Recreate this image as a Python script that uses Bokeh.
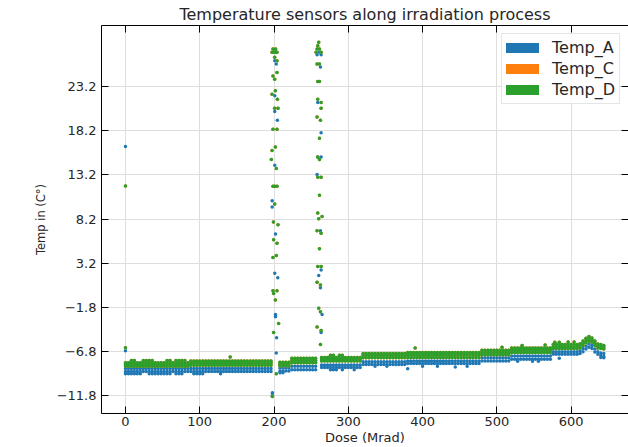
from bokeh.plotting import figure
from bokeh.models import Range1d, LinearAxis, FixedTicker, Legend, LegendItem
from bokeh.embed import file_html
from bokeh.resources import INLINE

# ---------------- data ----------------
title_text = "Temperature sensors along irradiation process"
x_ticks = [0, 100, 200, 300, 400, 500, 600]
y_ticks = [-11.8, -6.8, -1.8, 3.2, 8.2, 13.2, 18.2, 23.2]
y_tick_labels = ["\u221211.8", "\u22126.8", "\u22121.8", "3.2", "8.2", "13.2", "18.2", "23.2"]
series_names = ["Temp_A", "Temp_C", "Temp_D"]
series_colors = ["#1f77b4", "#ff7f0e", "#2ca02c"]

# dose of the steady readings (Mrad)
dose = [0, 4, 8, 12, 16, 20, 24, 28, 32, 36, 40, 44, 48, 52, 56, 60, 64, 68, 72, 76, 80, 84,
        88, 92, 96, 100, 104, 108, 112, 116, 120, 124, 128, 132, 136, 140, 144, 148, 152, 156,
        160, 164, 168, 172, 176, 180, 184, 188, 192, 196,
        208, 212, 216, 220,
        224, 228, 232, 236, 240, 244, 248, 252, 256,
        264, 268, 272, 276, 280, 284, 288, 292, 296, 300, 304, 308, 312, 316,
        320, 324, 328, 332, 336, 340, 344, 348, 352, 356, 360, 364, 368, 372, 376,
        380, 384, 388, 392, 396, 400, 404, 408, 412, 416, 420, 424, 428, 432, 436, 440,
        444, 448, 452, 456, 460, 464, 468, 472, 476,
        480, 484, 488, 492, 496, 500, 504, 508, 512, 516,
        520, 524, 528, 532, 536, 540, 544, 548, 552, 556, 560, 564, 568, 572,
        576, 580, 584, 588, 592, 596, 600, 604, 608,
        612, 616, 620, 624, 628, 632, 636, 640, 644]

# Temp_D readings at each dose: upper, middle and lower reading
temp_d_top = [
    -8.05, -8.05, -8.05, -8.05, -8.05, -8.05, -8.05, -8.05, -8.05, -8.05, -8.05,
    -8.05, -8.05, -8.05, -8.05, -8.05, -8.05, -8.05, -8.05, -8.05, -8.05, -8.05,
    -7.85, -7.85, -7.85, -7.85, -7.85, -7.85, -7.85, -7.85, -7.85, -7.85, -7.85, -7.85, -7.85, -7.85,
    -7.85, -7.85, -7.85, -7.85, -7.85, -7.85, -7.85, -7.85, -7.85, -7.85, -7.85, -7.85, -7.85, -7.85,
    -8.0, -8.0, -8.0, -8.0,
    -7.55, -7.55, -7.55, -7.55, -7.55, -7.55, -7.55, -7.55, -7.55,
    -7.45, -7.45, -7.45, -7.45, -7.45, -7.45, -7.45, -7.45, -7.45, -7.45, -7.45, -7.45, -7.45, -7.45,
    -7.0, -7.0, -7.0, -7.0, -7.0, -7.0, -7.0, -7.0, -7.0, -7.0, -7.0, -7.0, -7.0, -7.0, -7.0,
    -6.9, -6.9, -6.9, -6.9, -6.9, -6.9, -6.9, -6.9, -6.9, -6.9, -6.9, -6.9, -6.9, -6.9, -6.9, -6.9,
    -6.9, -6.9, -6.9, -6.9, -6.9, -6.9, -6.9, -6.9, -6.9,
    -6.65, -6.65, -6.65, -6.65, -6.65, -6.65, -6.65, -6.65, -6.65, -6.65,
    -6.4, -6.4, -6.4, -6.4, -6.4, -6.4, -6.4, -6.4, -6.4, -6.4, -6.4, -6.4, -6.4, -6.4,
    -6.0, -6.0, -6.0, -6.0, -6.0, -6.0, -6.0, -6.0, -6.0,
    -5.9, -5.6, -5.3, -5.1, -5.25, -5.6, -5.95, -6.0, -6.1]
temp_d_mid = [
    -8.25, -8.25, -8.25, -8.25, -8.25, -8.25, -8.25, -8.25, -8.25, -8.25, -8.25,
    -8.25, -8.25, -8.25, -8.25, -8.25, -8.25, -8.25, -8.25, -8.25, -8.25, -8.25,
    -8.1, -8.1, -8.1, -8.1, -8.1, -8.1, -8.1, -8.1, -8.1, -8.1, -8.1, -8.1, -8.1, -8.1,
    -8.1, -8.1, -8.1, -8.1, -8.1, -8.1, -8.1, -8.1, -8.1, -8.1, -8.1, -8.1, -8.1, -8.1,
    -8.2, -8.2, -8.2, -8.2,
    -7.8, -7.8, -7.8, -7.8, -7.8, -7.8, -7.8, -7.8, -7.8,
    -7.65, -7.65, -7.65, -7.65, -7.65, -7.65, -7.65, -7.65, -7.65, -7.65, -7.65, -7.65, -7.65, -7.65,
    -7.25, -7.25, -7.25, -7.25, -7.25, -7.25, -7.25, -7.25, -7.25, -7.25, -7.25, -7.25, -7.25, -7.25, -7.25,
    -7.15, -7.15, -7.15, -7.15, -7.15, -7.15, -7.15, -7.15, -7.15, -7.15, -7.15, -7.15, -7.15, -7.15, -7.15, -7.15,
    -7.15, -7.15, -7.15, -7.15, -7.15, -7.15, -7.15, -7.15, -7.15,
    -6.9, -6.9, -6.9, -6.9, -6.9, -6.9, -6.9, -6.9, -6.9, -6.9,
    -6.65, -6.65, -6.65, -6.65, -6.65, -6.65, -6.65, -6.65, -6.65, -6.65, -6.65, -6.65, -6.65, -6.65,
    -6.25, -6.25, -6.25, -6.25, -6.25, -6.25, -6.25, -6.25, -6.25,
    -6.1, -5.85, -5.55, -5.35, -5.5, -5.85, -6.2, -6.25, -6.3]
temp_d_low = [
    -8.45, -8.45, -8.45, -8.45, -8.45, -8.45, -8.45, -8.45, -8.45, -8.45, -8.45,
    -8.45, -8.45, -8.45, -8.45, -8.45, -8.45, -8.45, -8.45, -8.45, -8.45, -8.45,
    -8.35, -8.35, -8.35, -8.35, -8.35, -8.35, -8.35, -8.35, -8.35, -8.35, -8.35, -8.35, -8.35, -8.35,
    -8.35, -8.35, -8.35, -8.35, -8.35, -8.35, -8.35, -8.35, -8.35, -8.35, -8.35, -8.35, -8.35, -8.35,
    -8.4, -8.4, -8.4, -8.4,
    -8.05, -8.05, -8.05, -8.05, -8.05, -8.05, -8.05, -8.05, -8.05,
    -7.85, -7.85, -7.85, -7.85, -7.85, -7.85, -7.85, -7.85, -7.85, -7.85, -7.85, -7.85, -7.85, -7.85,
    -7.5, -7.5, -7.5, -7.5, -7.5, -7.5, -7.5, -7.5, -7.5, -7.5, -7.5, -7.5, -7.5, -7.5, -7.5,
    -7.45, -7.45, -7.45, -7.45, -7.45, -7.45, -7.45, -7.45, -7.45, -7.45, -7.45, -7.45, -7.45, -7.45, -7.45, -7.45,
    -7.45, -7.45, -7.45, -7.45, -7.45, -7.45, -7.45, -7.45, -7.45,
    -7.15, -7.15, -7.15, -7.15, -7.15, -7.15, -7.15, -7.15, -7.15, -7.15,
    -6.9, -6.9, -6.9, -6.9, -6.9, -6.9, -6.9, -6.9, -6.9, -6.9, -6.9, -6.9, -6.9, -6.9,
    -6.45, -6.45, -6.45, -6.45, -6.45, -6.45, -6.45, -6.45, -6.45,
    -6.35, -6.1, -5.8, -5.6, -5.75, -6.1, -6.4, -6.45, -6.5]

# Temp_A readings at each dose: upper and lower reading
temp_a_top = [
    -8.7, -8.7, -8.7, -8.7, -8.7, -8.7, -8.7, -8.7, -8.7, -8.7, -8.7,
    -8.7, -8.7, -8.7, -8.7, -8.7, -8.7, -8.7, -8.7, -8.7, -8.7, -8.7,
    -8.7, -8.7, -8.7, -8.7, -8.7, -8.7, -8.7, -8.7, -8.7, -8.7, -8.7, -8.7, -8.7, -8.7,
    -8.7, -8.7, -8.7, -8.7, -8.7, -8.7, -8.7, -8.7, -8.7, -8.7, -8.7, -8.7, -8.7, -8.7,
    -8.65, -8.65, -8.65, -8.65,
    -8.45, -8.45, -8.45, -8.45, -8.45, -8.45, -8.45, -8.45, -8.45,
    -8.3, -8.3, -8.3, -8.3, -8.3, -8.3, -8.3, -8.3, -8.3, -8.3, -8.3, -8.3, -8.3, -8.3,
    -7.95, -7.95, -7.95, -7.95, -7.95, -7.95, -7.95, -7.95, -7.95, -7.95, -7.95, -7.95, -7.95, -7.95, -7.95,
    -7.85, -7.85, -7.85, -7.85, -7.85, -7.85, -7.85, -7.85, -7.85, -7.85, -7.85, -7.85, -7.85, -7.85, -7.85, -7.85,
    -7.85, -7.85, -7.85, -7.85, -7.85, -7.85, -7.85, -7.85, -7.85,
    -7.5, -7.5, -7.5, -7.5, -7.5, -7.5, -7.5, -7.5, -7.5, -7.5,
    -7.3, -7.3, -7.3, -7.3, -7.3, -7.3, -7.3, -7.3, -7.3, -7.3, -7.3, -7.3, -7.3, -7.3,
    -6.8, -6.8, -6.8, -6.8, -6.8, -6.8, -6.8, -6.8, -6.8,
    -6.7, -6.45, -6.15, -5.95, -6.1, -6.5, -6.8, -6.95, -7.0]
temp_a_low = [
    -9.05, -9.05, -9.05, -9.05, -9.05, -9.05, -9.05, -9.05, -9.05, -9.05, -9.05,
    -9.05, -9.05, -9.05, -9.05, -9.05, -9.05, -9.05, -9.05, -9.05, -9.05, -9.05,
    -9.05, -9.05, -9.05, -9.05, -9.05, -9.05, -9.05, -9.05, -9.05, -9.05, -9.05, -9.05, -9.05, -9.05,
    -9.05, -9.05, -9.05, -9.05, -9.05, -9.05, -9.05, -9.05, -9.05, -9.05, -9.05, -9.05, -9.05, -9.05,
    -9.0, -9.0, -9.0, -9.0,
    -8.85, -8.85, -8.85, -8.85, -8.85, -8.85, -8.85, -8.85, -8.85,
    -8.6, -8.6, -8.6, -8.6, -8.6, -8.6, -8.6, -8.6, -8.6, -8.6, -8.6, -8.6, -8.6, -8.6,
    -8.25, -8.25, -8.25, -8.25, -8.25, -8.25, -8.25, -8.25, -8.25, -8.25, -8.25, -8.25, -8.25, -8.25, -8.25,
    -8.15, -8.15, -8.15, -8.15, -8.15, -8.15, -8.15, -8.15, -8.15, -8.15, -8.15, -8.15, -8.15, -8.15, -8.15, -8.15,
    -8.15, -8.15, -8.15, -8.15, -8.15, -8.15, -8.15, -8.15, -8.15,
    -7.85, -7.85, -7.85, -7.85, -7.85, -7.85, -7.85, -7.85, -7.85, -7.85,
    -7.65, -7.65, -7.65, -7.65, -7.65, -7.65, -7.65, -7.65, -7.65, -7.65, -7.65, -7.65, -7.65, -7.65,
    -7.1, -7.1, -7.1, -7.1, -7.1, -7.1, -7.1, -7.1, -7.1,
    -7.0, -6.8, -6.5, -6.3, -6.45, -6.85, -7.1, -7.25, -7.35]

# occasional readings outside the steady band
spot_d_dose = [8, 12, 24, 28, 32, 36, 56, 60, 68, 72, 76, 80, 141, 276, 280, 288, 292,
               390, 507, 534, 565, 578, 584, 596, 604]
spot_d = [-7.8, -7.8, -7.8, -7.8, -7.8, -7.8, -7.8, -7.8, -7.8, -7.8, -7.8, -7.8, -7.4,
          -7.2, -7.2, -7.2, -7.2, -6.4, -6.3, -6.1, -6.05, -5.75, -5.75, -5.7, -5.7]
spot_a_dose = [0, 4, 8, 12, 16, 20, 32, 36, 40, 44, 48, 52, 56, 60, 68, 72, 76, 92, 96, 100,
               104, 128, 208, 212, 276, 280, 284, 292, 308, 336, 352, 380, 400, 420, 444, 460,
               528, 548, 556, 584, 640, 644]
spot_a = [-9.3, -9.3, -9.3, -9.3, -9.3, -9.3, -9.3, -9.3, -9.3, -9.3, -9.3, -9.3, -9.3, -9.3,
          -9.3, -9.3, -9.3, -9.3, -9.3, -9.3, -9.3, -9.3, -9.2, -9.2, -8.85, -8.85, -8.85,
          -8.85, -8.85, -8.45, -8.45, -8.75, -8.45, -8.45, -8.55, -8.45, -7.9, -7.9, -7.9,
          -7.55, -7.45, -7.5]

# transients (start, ~200 Mrad and ~262 Mrad)
spike_a_dose = [0, 0,
                201, 201, 203, 201, 201, 204.5, 201, 197.5, 197.5, 202, 201, 205, 202, 202,
                203.5, 203, 197.8, 197.8,
                261.2, 258, 263.4, 262.5, 258.9, 263.4, 258.9, 263.4, 258, 262.5, 263.4,
                260.2, 262.5, 264.7, 263.4]
spike_a = [16.4, -6.7,
           27.26, 26.12, 25.74, 22.14, 20.36, 19.37, 14.3, 10.28, 9.56, 6.5, 2.07, 1.57,
           -2.6, -2.86, -5.24, -6.95, -11.45, -11.77,
           27.06, 26.8, 26.8, 25.4, 21.4, 17.97, 15.21, 15.21, 13.23, 6.87, 2.45,
           1.8, 0.44, -2.6, -4.64]
spike_d_dose = [0, 0,
                198.6, 202.2, 197.3, 200, 202, 204, 200.9, 204, 204, 198.6, 200.9, 201.8,
                197.3, 204.5, 200.9, 205.4, 198.6, 204, 201.8, 197.3, 196.4, 203.1, 198.6,
                201, 204, 200.9, 199.2, 205.4, 199.5, 204, 203.1, 198.6, 198.6, 204, 199.5,
                201.8, 206.2, 199.5, 203.1, 197.8,
                260.2, 258.9, 258, 261.2, 256.7, 263.4, 258, 261.2, 258.9, 261.2, 258.9,
                263.4, 263.4, 258, 262.5, 261.2, 258.9, 261.2, 258.9, 263.4, 261.2, 258.9,
                264.7, 260.2, 258, 263.4, 261.2, 258.9, 263.4, 258, 262.5, 260.2, 262.5,
                258, 263.4, 262.5]
spike_d = [11.95, -6.35,
           27.44, 27.44, 27.06, 27.06, 27.06, 27.06, 26.5, 26.12, 24.79, 24.4, 24.03, 22.71,
           22.33, 21.76, 20.74, 20.74, 18.35, 18.35, 16.35, 15.97, 14.94, 13.92, 11.92,
           11.92, 11.92, 9.9, 7.86, 7.55, 5.85, 5.47, 4.07, 3.85, 0.1, 0.1, -0.21,
           -0.97, -3.62, -4.64, -9.3, -11.88,
           28.2, 27.82, 27.44, 27.44, 27.06, 27.06, 25.73, 25.73, 23.77, 23.77, 21.76,
           21.4, 20.74, 19.76, 19.37, 17.33, 15.21, 14.94, 12.94, 12.94, 10.89, 8.88,
           8.5, 8.23, 6.87, 6.6, 4.83, 2.83, 2.83, 1.04, 0.74, -1.9, -2.3,
           -4.0, -4.4, -6.0]

# Temp_C is not visible: it lies under Temp_D
# ---------------- assemble the series ----------------
xa = dose + dose + spot_a_dose + spike_a_dose
ya = temp_a_top + temp_a_low + spot_a + spike_a
xd = dose + dose + dose + spot_d_dose + spike_d_dose
yd = temp_d_top + temp_d_mid + temp_d_low + spot_d + spike_d
xc, yc = list(xd), list(yd)

TXT = "#262626"
FONT = "DejaVu Sans"

p = figure(width=628, height=447, output_backend="svg", toolbar_location=None,
           x_range=Range1d(-32.25, 677.25), y_range=Range1d(-13.8, 30.1),
           min_border_left=101, min_border_right=0, min_border_top=0, min_border_bottom=0,
           title=title_text)
p.background_fill_color = "white"
p.border_fill_color = "white"
p.outline_line_color = None

p.title.text_font = FONT
p.title.text_font_size = "16px"
p.title.text_font_style = "normal"
p.title.text_color = TXT
p.title.align = "center"
p.title.standoff = 4

size = 3.5
p.scatter(xa, ya, size=size, color=series_colors[0], line_color=None)
p.scatter(xc, yc, size=size, color=series_colors[1], line_color=None)
p.scatter(xd, yd, size=size, color=series_colors[2], line_color=None)

# axes
xt = FixedTicker(ticks=x_ticks)
yt = FixedTicker(ticks=y_ticks)
overrides = {t: s for t, s in zip(y_ticks, y_tick_labels)}

def style_axis(ax, ticker, show_labels=True, line=True):
    ax.ticker = ticker
    ax.major_tick_in = 7
    ax.major_tick_out = 0
    ax.minor_tick_in = 0
    ax.minor_tick_out = 0
    ax.major_tick_line_color = "black"
    ax.axis_line_color = "black" if line else None
    ax.axis_line_width = 1
    ax.major_label_text_font = FONT
    ax.major_label_text_color = TXT
    if show_labels:
        ax.major_label_text_font_size = "13px"
    else:
        ax.major_label_text_color = None
        ax.major_label_text_font_size = "1px"
        ax.major_label_standoff = 0

xax = p.xaxis[0]
style_axis(xax, xt)
xax.major_label_standoff = 3
xax.axis_label = "Dose (Mrad)"
xax.axis_label_text_font = FONT
xax.axis_label_text_font_size = "13px"
xax.axis_label_text_font_style = "normal"
xax.axis_label_text_color = TXT
xax.axis_label_standoff = 1

yax = p.yaxis[0]
style_axis(yax, yt)
yax.major_label_overrides = overrides
yax.major_label_standoff = 5
yax.axis_label = "Temp in (C\u00b0)"
yax.axis_label_text_font = FONT
yax.axis_label_text_font_size = "11.5px"
yax.axis_label_text_font_style = "normal"
yax.axis_label_text_color = TXT
yax.axis_label_standoff = 6

top_ax = LinearAxis()
style_axis(top_ax, xt, show_labels=False)
p.add_layout(top_ax, "above")
right_ax = LinearAxis()
style_axis(right_ax, yt, show_labels=False, line=False)
p.add_layout(right_ax, "right")

p.xgrid.ticker = xt
p.ygrid.ticker = yt
p.xgrid.grid_line_color = "#dedede"
p.ygrid.grid_line_color = "#dedede"

# legend (marker blobs)
nan = float("nan")
glyphs = []
for name, col in zip(series_names, series_colors):
    r = p.line([nan, nan], [nan, nan], line_color=col, line_width=10, line_cap="round")
    glyphs.append(LegendItem(label=name, renderers=[r]))
legend = Legend(items=glyphs, location="top_right", margin=8, padding=4, spacing=2,
                glyph_width=33, glyph_height=19, label_height=19, label_standoff=13,
                label_text_font=FONT, label_text_font_size="16px", label_text_color=TXT,
                border_line_color="#cccccc", border_line_width=1,
                background_fill_color="white", background_fill_alpha=0.8)
p.add_layout(legend)

open("out.html", "w").write(file_html(p, INLINE))
